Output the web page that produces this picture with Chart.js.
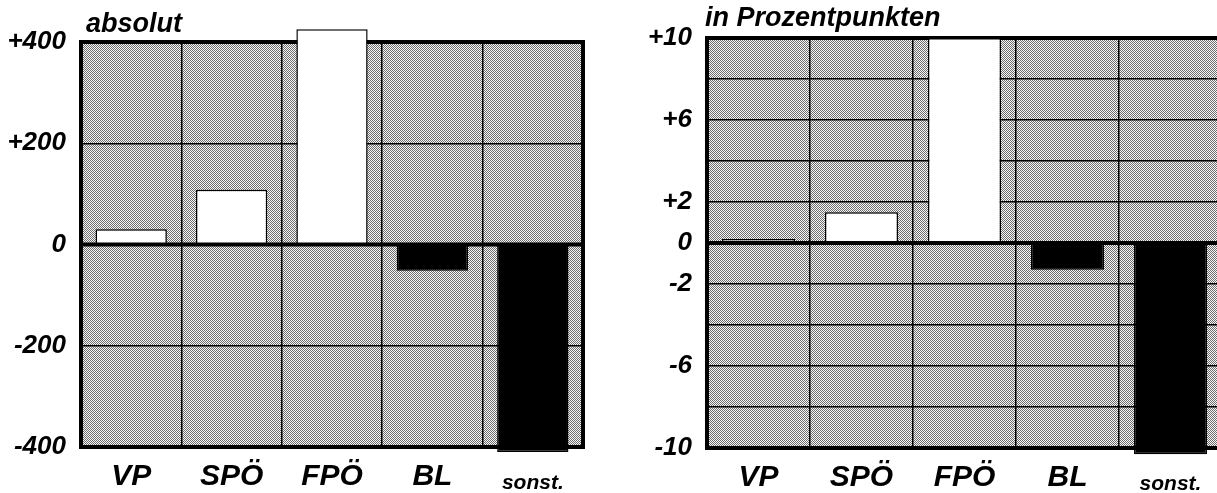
<!DOCTYPE html>
<html>
<head>
<meta charset="utf-8">
<script src="https://cdn.jsdelivr.net/npm/chart.js@4.4.0/dist/chart.umd.min.js"></script>
<style>
  html, body { margin: 0; padding: 0; background: #fff; overflow: hidden; }
  #wrap { position: relative; width: 1217px; height: 493px; overflow: hidden; }
  canvas { position: absolute; top: 0; }
</style>
</head>
<body>
<div id="wrap">
  <canvas id="absChart" width="600" height="493" style="left:0"></canvas>
  <canvas id="pctChart" width="624" height="493" style="left:600px"></canvas>
</div>
<script>
// Parteien
var categories = ['VP', 'SPÖ', 'FPÖ', 'BL', 'sonst.'];
// Veränderung absolut
var absolutValues = [30, 108, 425, -52, -410];
// Veränderung in Prozentpunkten
var prozentValues = [0.2, 1.5, 10, -1.3, -10.3];
// beschriftete Ticks rechts
var prozentTickLabels = [10, 6, 2, 0, -2, -6, -10];

var fontFamily = '"Liberation Sans", Arial, sans-serif';

function makePattern() {
    var c = document.createElement('canvas');
    c.width = 2; c.height = 2;
    var p = c.getContext('2d');
    p.fillStyle = '#f8f8f8';
    p.fillRect(0, 0, 2, 2);
    p.fillStyle = '#6c6c6c';
    p.fillRect(0, 0, 1, 1);
    p.fillRect(1, 1, 1, 1);
    return c;
}
var patternCanvas = makePattern();

function fmt(v) {
    return v > 0 ? '+' + v : String(v);
}

function framePlugin(title, tx, ty) {
    return {
        id: 'frame',
        beforeDraw: function(chart) {
            var ctx = chart.ctx, a = chart.chartArea;
            ctx.save();
            ctx.fillStyle = ctx.createPattern(patternCanvas, 'repeat');
            ctx.fillRect(a.left, a.top, a.right - a.left, a.bottom - a.top);
            ctx.restore();
        },
        beforeDatasetsDraw: function(chart) {
            var ctx = chart.ctx, a = chart.chartArea;
            ctx.save();
            ctx.strokeStyle = '#000';
            ctx.lineWidth = 4;
            ctx.strokeRect(a.left, a.top, a.right - a.left, a.bottom - a.top);
            ctx.restore();
        },
        afterDatasetsDraw: function(chart) {
            var ctx = chart.ctx, a = chart.chartArea;
            var y0 = chart.scales.y.getPixelForValue(0);
            ctx.save();
            ctx.strokeStyle = '#000';
            ctx.lineWidth = 4;
            ctx.beginPath();
            ctx.moveTo(a.left - 2, y0);
            ctx.lineTo(a.right + 2, y0);
            ctx.stroke();
            ctx.restore();
        },
        afterDraw: function(chart) {
            var ctx = chart.ctx;
            ctx.save();
            ctx.fillStyle = '#000';
            ctx.font = 'italic bold 27px ' + fontFamily;
            ctx.textBaseline = 'alphabetic';
            ctx.fillText(title, tx, ty);
            ctx.restore();
        }
    };
}

function makeChart(id, values, opts) {
    var ctx = document.getElementById(id).getContext('2d');
    return new Chart(ctx, {
        type: 'bar',
        data: {
            labels: categories,
            datasets: [{
                data: values,
                backgroundColor: values.map(function(v) { return v >= 0 ? '#ffffff' : '#000000'; }),
                borderColor: '#000',
                borderWidth: 1.5,
                borderSkipped: false,
                categoryPercentage: 1,
                barPercentage: 0.71,
                clip: false
            }]
        },
        options: {
            responsive: false,
            animation: false,
            devicePixelRatio: 1,
            layout: { padding: opts.padding },
            plugins: { legend: { display: false }, tooltip: { enabled: false } },
            scales: {
                x: {
                    grid: { color: '#000', lineWidth: 1.5, drawTicks: false, offset: true },
                    border: { display: false },
                    afterFit: function(s) { s.height = opts.xHeight; },
                    ticks: {
                        color: '#000',
                        padding: 12,
                        font: function(c) {
                            if (c.index === 4) {
                                return { family: fontFamily, size: 21, style: 'italic', weight: 'bold', lineHeight: 2.3 };
                            }
                            return { family: fontFamily, size: 30, style: 'italic', weight: 'bold' };
                        }
                    }
                },
                y: {
                    min: opts.min,
                    max: opts.max,
                    grid: {
                        color: '#000',
                        drawTicks: false,
                        lineWidth: function(c) { return c.tick && c.tick.value === 0 ? 0 : 1.5; }
                    },
                    border: { display: false },
                    afterFit: function(s) { s.width = opts.yWidth; },
                    ticks: {
                        stepSize: opts.step,
                        autoSkip: false,
                        color: '#000',
                        padding: 15,
                        font: { family: fontFamily, size: 26, style: 'italic', weight: 'bold' },
                        callback: opts.tickCb
                    }
                }
            }
        },
        plugins: [framePlugin(opts.title, opts.tx, opts.ty)]
    });
}

makeChart('absChart', absolutValues, {
    min: -400, max: 400, step: 200,
    padding: { left: 0, top: 42, right: 17, bottom: 0 },
    xHeight: 46, yWidth: 81,
    title: 'absolut', tx: 86, ty: 32,
    tickCb: function(v) { return fmt(v); }
});

makeChart('pctChart', prozentValues, {
    min: -10, max: 10, step: 2,
    padding: { left: 0, top: 38, right: 2, bottom: 0 },
    xHeight: 45, yWidth: 107,
    title: 'in Prozentpunkten', tx: 105, ty: 26,
    tickCb: function(v) { return prozentTickLabels.indexOf(v) >= 0 ? fmt(v) : ''; }
});
</script>
</body>
</html>
